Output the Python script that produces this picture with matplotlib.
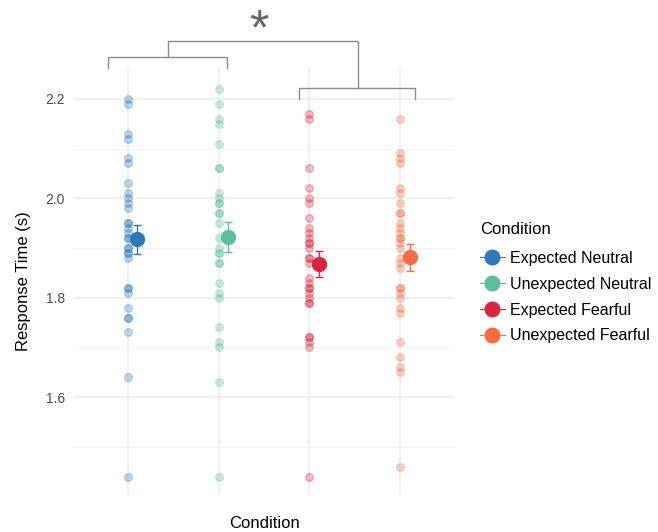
import numpy as np
import matplotlib.pyplot as plt
from matplotlib.lines import Line2D

plt.rcParams['font.family'] = ['Liberation Sans', 'DejaVu Sans']

conditions = ['Expected Neutral', 'Unexpected Neutral', 'Expected Fearful', 'Unexpected Fearful']
colors = ['#2c7bb6', '#5bbf97', '#d7263d', '#f46d43']

# raw response times per condition
exp_neutral = [2.20, 2.19, 2.13, 2.12, 2.08, 2.07, 2.03, 2.01, 2.00, 1.99, 1.98,
               1.95, 1.95, 1.94, 1.93, 1.92, 1.92, 1.90, 1.90, 1.89, 1.89, 1.88,
               1.82, 1.82, 1.81, 1.78, 1.76, 1.76, 1.73, 1.64, 1.44]
unexp_neutral = [2.22, 2.19, 2.16, 2.15, 2.11, 2.06, 2.06, 2.01, 2.00, 1.99, 1.99,
                 1.97, 1.97, 1.95, 1.92, 1.90, 1.89, 1.89, 1.87, 1.87, 1.83, 1.81,
                 1.80, 1.74, 1.71, 1.70, 1.63, 1.44]
exp_fearful = [2.17, 2.16, 2.06, 2.02, 2.00, 1.99, 1.96, 1.94, 1.93, 1.92, 1.91,
               1.91, 1.90, 1.88, 1.88, 1.87, 1.84, 1.83, 1.82, 1.82, 1.81, 1.80,
               1.79, 1.79, 1.72, 1.72, 1.71, 1.70, 1.44]
unexp_fearful = [2.16, 2.09, 2.08, 2.07, 2.02, 2.01, 1.99, 1.97, 1.97, 1.95, 1.94,
                 1.93, 1.92, 1.92, 1.91, 1.90, 1.88, 1.87, 1.86, 1.82, 1.82, 1.81,
                 1.80, 1.78, 1.77, 1.71, 1.68, 1.66, 1.65, 1.46]
raw = [exp_neutral, unexp_neutral, exp_fearful, unexp_fearful]

# condition means and error bar limits
means = [1.919, 1.923, 1.868, 1.881]
err_low = [1.888, 1.891, 1.841, 1.854]
err_high = [1.946, 1.953, 1.894, 1.908]

fig = plt.figure(figsize=(6.58, 5.32), dpi=100)
ax = fig.add_axes([73/658, 1 - 495/532, 382/658, 427/532])

pos = np.arange(1, 5)
for i, vals in enumerate(raw):
    ax.plot(np.full(len(vals), pos[i]), vals, 'o', ms=5.5, color=colors[i],
            alpha=0.3, mec=colors[i], mew=1, zorder=3)
    ax.errorbar(pos[i] + 0.1, means[i],
                yerr=[[means[i] - err_low[i]], [err_high[i] - means[i]]],
                fmt='o', ms=10, color=colors[i], ecolor=colors[i], elinewidth=1,
                capsize=3, capthick=1, zorder=4)

ax.set_xlim(0.4, 4.6)
ax.set_ylim(1.403, 2.262)
ax.set_xticks(pos)
ax.set_yticks([1.6, 1.8, 2.0, 2.2])
ax.set_yticks([1.5, 1.7, 1.9, 2.1], minor=True)
ax.grid(True, which='major', color='#ebebeb', lw=1.1)
ax.grid(True, which='minor', axis='y', color='#f2f2f2', lw=0.7)
ax.set_axisbelow(True)
for s in ax.spines.values():
    s.set_visible(False)
ax.tick_params(axis='both', which='both', length=0)
ax.tick_params(axis='x', labelbottom=False)
ax.tick_params(axis='y', labelsize=10, labelcolor='#4d4d4d', pad=6)
ax.set_yticklabels(['1.6', '1.8', '2.0', '2.2'])
ax.set_ylabel('Response Time (s)', fontsize=12, labelpad=10)
ax.set_xlabel('Condition', fontsize=12, labelpad=15)

# significance brackets
bc = '#8c8c8c'
kw = dict(color=bc, lw=1, clip_on=False)
ax.plot([0.785, 0.785, 2.09, 2.09], [2.262, 2.284, 2.284, 2.262], **kw)
ax.plot([2.89, 2.89, 4.165, 4.165], [2.199, 2.2215, 2.2215, 2.199], **kw)
ax.plot([1.44, 1.44, 3.53, 3.53], [2.284, 2.316, 2.316, 2.2215], **kw)
ax.text(2.44, 2.310, '*', ha='center', va='baseline', fontsize=36, color='#666666')

handles = [Line2D([], [], color=c, marker='o', ms=10.5, lw=0.8) for c in colors]
leg = fig.legend(handles, conditions, title='Condition', loc='upper left',
                 bbox_to_anchor=(472/658, 1 - 214/532), frameon=False,
                 fontsize=11.5, title_fontsize=12, handlelength=1.55,
                 handletextpad=0.32, labelspacing=0.68, borderpad=0)
leg._legend_box.align = 'left'
leg._legend_box.sep = 10

fig.savefig('out.png', dpi=100)
